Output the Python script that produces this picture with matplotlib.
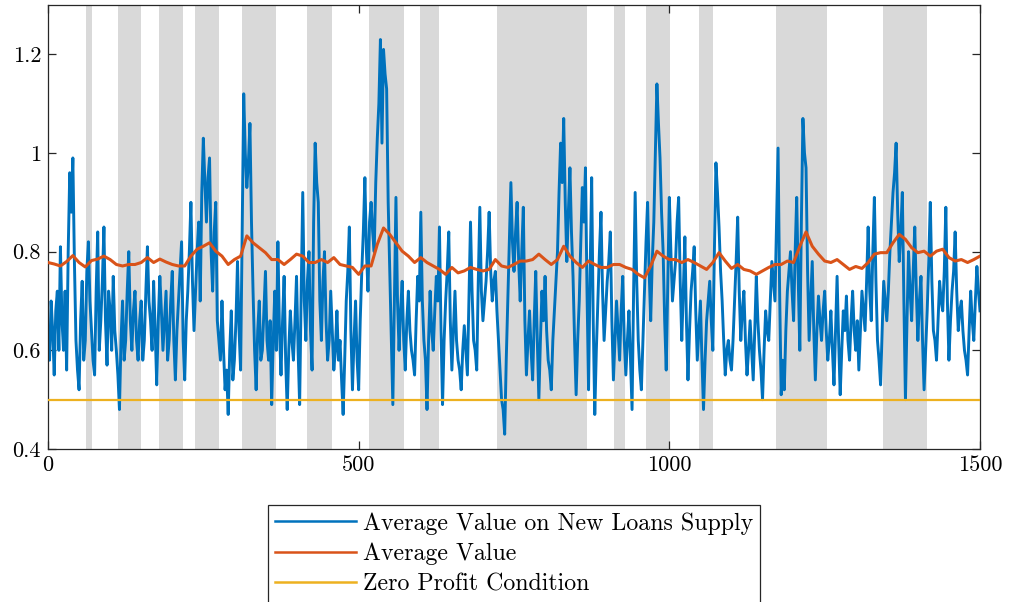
import numpy as np
import matplotlib
matplotlib.use("Agg")
import matplotlib.pyplot as plt

# ---------------- data ----------------
# blue series read at t = 0, 5, 10, ..., 1500
blue_vals = [
    0.62, 0.70, 0.55, 0.72, 0.81, 0.60, 0.56, 0.96, 0.99, 0.62, 0.52, 0.74, 0.62, 0.82, 0.64, 0.55, 0.84, 0.66, 0.85, 0.57,
    0.68, 0.75, 0.60, 0.48, 0.70, 0.62, 0.80, 0.60, 0.72, 0.58, 0.70, 0.62, 0.81, 0.66, 0.74, 0.53, 0.75, 0.60, 0.72, 0.62,
    0.76, 0.54, 0.70, 0.82, 0.54, 0.72, 0.90, 0.64, 0.80, 0.70, 1.03, 0.86, 0.99, 0.72, 0.90, 0.62, 0.70, 0.52, 0.47, 0.68,
    0.58, 0.78, 0.56, 1.12, 0.93, 1.06, 0.72, 0.52, 0.70, 0.60, 0.76, 0.58, 0.49, 0.72, 0.82, 0.55, 0.75, 0.48, 0.68, 0.58,
    0.75, 0.49, 0.92, 0.62, 0.80, 0.56, 1.02, 0.90, 0.62, 0.80, 0.58, 0.72, 0.56, 0.68, 0.62, 0.47, 0.70, 0.85, 0.52, 0.70,
    0.52, 0.76, 0.95, 0.72, 0.90, 0.80, 1.03, 1.23, 1.21, 1.13, 0.76, 0.49, 0.91, 0.60, 0.74, 0.56, 0.72, 0.60, 0.55, 0.75,
    0.88, 0.62, 0.48, 0.72, 0.60, 0.75, 0.85, 0.49, 0.70, 0.84, 0.56, 0.72, 0.58, 0.52, 0.65, 0.55, 0.86, 0.62, 0.56, 0.89,
    0.66, 0.74, 0.88, 0.70, 0.76, 0.62, 0.50, 0.43, 0.70, 0.94, 0.76, 0.90, 0.70, 0.89, 0.55, 0.68, 0.54, 0.76, 0.50, 0.72,
    0.75, 0.58, 0.52, 0.68, 0.80, 1.02, 1.07, 0.78, 0.97, 0.75, 0.51, 0.70, 0.93, 0.97, 0.52, 0.95, 0.47, 0.70, 0.88, 0.62,
    0.74, 0.84, 0.54, 0.70, 0.58, 0.75, 0.55, 0.68, 0.48, 0.92, 0.62, 0.52, 0.72, 0.90, 0.66, 0.86, 1.14, 0.99, 0.80, 0.56,
    0.91, 0.70, 0.78, 0.91, 0.62, 0.83, 0.54, 0.72, 0.81, 0.58, 0.70, 0.48, 0.66, 0.74, 0.60, 0.98, 0.85, 0.70, 0.55, 0.62,
    0.56, 0.70, 0.87, 0.62, 0.72, 0.55, 0.66, 0.54, 0.75, 0.60, 0.50, 0.68, 0.62, 0.78, 0.70, 1.01, 0.51, 0.52, 0.72, 0.80,
    0.66, 0.91, 0.60, 1.07, 0.97, 0.62, 0.78, 0.54, 0.71, 0.62, 0.72, 0.58, 0.68, 0.53, 0.75, 0.51, 0.68, 0.71, 0.58, 0.72,
    0.60, 0.56, 0.72, 0.64, 0.85, 0.66, 0.91, 0.62, 0.53, 0.74, 0.66, 0.80, 0.92, 1.02, 0.78, 0.92, 0.50, 0.80, 0.66, 0.85,
    0.62, 0.75, 0.52, 0.68, 0.90, 0.64, 0.58, 0.74, 0.68, 0.89, 0.58, 0.72, 0.84, 0.64, 0.70, 0.60, 0.55, 0.72, 0.62, 0.77,
    0.68,
]
# blue series read at t = 2.5, 7.5, ..., 1497.5
blue_vals_mid = [
    0.58, 0.64, 0.68, 0.60, 0.66, 0.72, 0.80, 0.88, 0.78, 0.56, 0.66, 0.58, 0.76, 0.70, 0.58, 0.72, 0.60, 0.74, 0.66, 0.72,
    0.60, 0.64, 0.55, 0.62, 0.58, 0.72, 0.66, 0.68, 0.62, 0.66, 0.58, 0.72, 0.70, 0.60, 0.64, 0.66, 0.68, 0.66, 0.58, 0.70,
    0.62, 0.64, 0.76, 0.62, 0.66, 0.80, 0.74, 0.72, 0.86, 0.92, 0.94, 0.95, 0.80, 0.84, 0.66, 0.58, 0.60, 0.56, 0.60, 0.54,
    0.66, 0.64, 0.84, 1.00, 0.98, 0.86, 0.60, 0.64, 0.58, 0.68, 0.62, 0.66, 0.62, 0.60, 0.64, 0.66, 0.58, 0.60, 0.62, 0.66,
    0.60, 0.72, 0.70, 0.74, 0.64, 0.86, 0.94, 0.70, 0.74, 0.66, 0.62, 0.64, 0.60, 0.58, 0.54, 0.58, 0.76, 0.64, 0.62, 0.58,
    0.66, 0.84, 0.80, 0.86, 0.84, 0.94, 1.10, 1.02, 1.16, 0.90, 0.62, 0.70, 0.70, 0.68, 0.62, 0.66, 0.64, 0.58, 0.66, 0.70,
    0.70, 0.58, 0.62, 0.64, 0.68, 0.70, 0.64, 0.62, 0.76, 0.66, 0.64, 0.62, 0.56, 0.60, 0.60, 0.70, 0.72, 0.60, 0.74, 0.72,
    0.70, 0.80, 0.76, 0.74, 0.68, 0.56, 0.48, 0.58, 0.82, 0.82, 0.84, 0.78, 0.80, 0.66, 0.62, 0.60, 0.66, 0.62, 0.62, 0.66,
    0.64, 0.56, 0.62, 0.74, 0.92, 0.94, 0.90, 0.88, 0.84, 0.62, 0.62, 0.82, 0.86, 0.72, 0.76, 0.66, 0.60, 0.80, 0.72, 0.68,
    0.78, 0.66, 0.62, 0.64, 0.68, 0.62, 0.62, 0.58, 0.72, 0.74, 0.56, 0.62, 0.82, 0.76, 0.78, 1.00, 1.06, 0.88, 0.66, 0.74,
    0.80, 0.74, 0.86, 0.74, 0.72, 0.66, 0.64, 0.76, 0.68, 0.64, 0.58, 0.58, 0.70, 0.66, 0.80, 0.92, 0.76, 0.62, 0.60, 0.58,
    0.62, 0.78, 0.72, 0.68, 0.62, 0.60, 0.60, 0.64, 0.66, 0.56, 0.60, 0.64, 0.70, 0.74, 0.86, 0.72, 0.58, 0.64, 0.76, 0.72,
    0.80, 0.74, 0.86, 1.00, 0.76, 0.70, 0.64, 0.64, 0.66, 0.68, 0.64, 0.62, 0.60, 0.64, 0.62, 0.60, 0.64, 0.62, 0.66, 0.64,
    0.66, 0.64, 0.68, 0.74, 0.72, 0.80, 0.74, 0.58, 0.64, 0.70, 0.72, 0.86, 0.96, 0.88, 0.84, 0.70, 0.66, 0.72, 0.76, 0.72,
    0.70, 0.62, 0.60, 0.78, 0.74, 0.62, 0.66, 0.70, 0.76, 0.70, 0.66, 0.76, 0.72, 0.68, 0.64, 0.58, 0.64, 0.66, 0.70, 0.72,
]
blue_step = 5.0

# orange series read at t = 0, 10, ..., 1500
orange_vals = [
    0.778, 0.775, 0.771, 0.780, 0.792, 0.778, 0.769, 0.782, 0.785, 0.791, 0.784, 0.774, 0.771, 0.774, 0.774, 0.778, 0.788, 0.778, 0.785, 0.779,
    0.774, 0.771, 0.771, 0.791, 0.805, 0.811, 0.818, 0.801, 0.791, 0.774, 0.784, 0.791, 0.832, 0.818, 0.808, 0.798, 0.784, 0.784, 0.774, 0.784,
    0.795, 0.791, 0.778, 0.778, 0.784, 0.778, 0.788, 0.774, 0.771, 0.768, 0.754, 0.771, 0.771, 0.815, 0.848, 0.835, 0.818, 0.801, 0.791, 0.778,
    0.788, 0.778, 0.771, 0.764, 0.754, 0.768, 0.757, 0.761, 0.768, 0.764, 0.761, 0.764, 0.784, 0.771, 0.768, 0.774, 0.781, 0.781, 0.784, 0.795,
    0.784, 0.774, 0.784, 0.811, 0.791, 0.778, 0.768, 0.781, 0.774, 0.768, 0.768, 0.774, 0.774, 0.768, 0.764, 0.754, 0.747, 0.771, 0.801, 0.791,
    0.784, 0.784, 0.778, 0.784, 0.778, 0.771, 0.764, 0.778, 0.798, 0.781, 0.766, 0.774, 0.764, 0.761, 0.754, 0.761, 0.768, 0.774, 0.774, 0.781,
    0.778, 0.811, 0.840, 0.811, 0.795, 0.781, 0.778, 0.784, 0.774, 0.764, 0.770, 0.766, 0.778, 0.795, 0.798, 0.798, 0.818, 0.835, 0.825, 0.808,
    0.798, 0.801, 0.791, 0.801, 0.805, 0.788, 0.781, 0.784, 0.778, 0.784, 0.791,
]
orange_step = 10.0

zero_profit = 0.5

band_starts = [61, 112, 179, 237, 313, 417, 517, 599, 723, 911, 962, 1048, 1172, 1344]
band_ends   = [71, 150, 217, 276, 367, 457, 573, 630, 867, 929, 1001, 1070, 1254, 1414]

x_ticks = [0, 500, 1000, 1500]
y_ticks = [0.4, 0.6, 0.8, 1.0, 1.2]
y_tick_labels = ["0.4", "0.6", "0.8", "1", "1.2"]

labels = ["Average Value on New Loans Supply", "Average Value", "Zero Profit Condition"]

# ---------------- style ----------------
plt.rcParams["font.family"] = ["cmr10", "DejaVu Serif"]
plt.rcParams["mathtext.fontset"] = "cm"
plt.rcParams["axes.formatter.use_mathtext"] = True

c_blue = "#0072BD"
c_orange = "#D95319"
c_yellow = "#EDB120"
c_axis = "#262626"

fig = plt.figure(figsize=(10.13, 6.02), dpi=100)
ax = fig.add_axes([48 / 1013, 1 - 449 / 602, 932 / 1013, 444 / 602])

for s, e in zip(band_starts, band_ends):
    ax.axvspan(s, e, color="#d9d9d9", lw=0, zorder=0)

# interleave the two blue readings in time order
n_main = len(blue_vals)
t_main = np.arange(n_main) * blue_step
t_mid = np.arange(len(blue_vals_mid)) * blue_step + blue_step / 2
tb = np.empty(n_main + len(blue_vals_mid))
yb = np.empty_like(tb)
tb[0::2] = t_main
tb[1::2] = t_mid
yb[0::2] = blue_vals
yb[1::2] = blue_vals_mid

to = np.arange(len(orange_vals)) * orange_step

l1, = ax.plot(tb, yb, color=c_blue, lw=2.1, zorder=2)
l2, = ax.plot(to, orange_vals, color=c_orange, lw=2.2, zorder=3)
l3 = ax.axhline(zero_profit, color=c_yellow, lw=1.6, zorder=3)

ax.set_xlim(0, 1500)
ax.set_ylim(0.4, 1.3)
ax.set_xticks(x_ticks)
ax.set_xticklabels([str(v) for v in x_ticks])
ax.set_yticks(y_ticks)
ax.set_yticklabels(y_tick_labels)

for sp in ax.spines.values():
    sp.set_color(c_axis)
    sp.set_linewidth(0.9)
ax.tick_params(direction="in", length=6, width=0.9, color=c_axis,
               labelsize=16, labelcolor="black", top=True, right=True, pad=5)

leg = fig.legend([l1, l2, l3], labels, loc="upper center",
                 bbox_to_anchor=(514 / 1013, 1 - 505 / 602),
                 fontsize=17.2, frameon=True, fancybox=False, framealpha=1,
                 edgecolor=c_axis, handlelength=3.4, handletextpad=0.3,
                 borderpad=0.3, labelspacing=0.34, borderaxespad=0)
leg.get_frame().set_linewidth(0.9)
for h in leg.get_lines():
    h.set_linewidth(1.8)

fig.savefig("out.png", dpi=100)
